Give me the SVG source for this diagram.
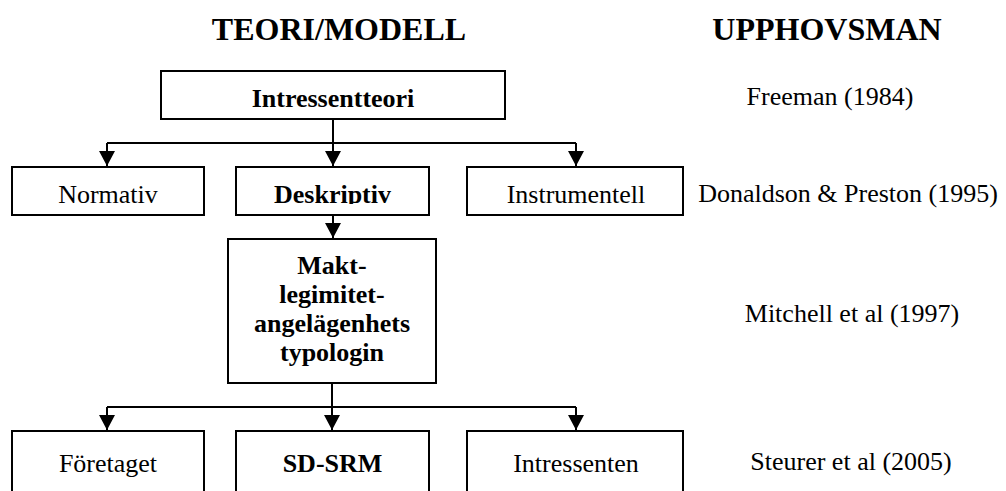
<svg xmlns="http://www.w3.org/2000/svg" width="1006" height="491" viewBox="0 0 1006 491">
  <style>
    .box { fill: #fff; stroke: #000; stroke-width: 2; }
    .t { font-family: "Liberation Serif", "Times New Roman", serif; font-size: 26px; fill: #000; text-anchor: middle; }
    .b { font-weight: bold; }
    .h { font-family: "Liberation Serif", "Times New Roman", serif; font-size: 32px; font-weight: bold; fill: #000; text-anchor: middle; }
    .c { fill: none; stroke: #000; stroke-width: 2; }
  </style>
  <defs>
    <marker id="arr" viewBox="0 0 15 16" refX="15" refY="8" markerWidth="15" markerHeight="16" markerUnits="userSpaceOnUse" orient="auto">
      <path d="M0,0 L15,8 L0,16 Z" fill="#000"/>
    </marker>
    <clipPath id="row2clip"><rect x="0" y="160" width="1006" height="44"/></clipPath>
  </defs>
  <rect width="1006" height="491" fill="#fff"/>

  <g id="headers">
    <text class="h" x="339" y="40">TEORI/MODELL</text>
    <text class="h" x="827" y="40">UPPHOVSMAN</text>
  </g>

  <g id="connectors">
    <path class="c" d="M333,119 V143 M107,143 H576"/>
    <path class="c" d="M107,143 V166" marker-end="url(#arr)"/>
    <path class="c" d="M333,143 V166" marker-end="url(#arr)"/>
    <path class="c" d="M576,143 V166" marker-end="url(#arr)"/>
    <path class="c" d="M333,215 V238" marker-end="url(#arr)"/>
    <path class="c" d="M332,383 V407 M107,407 H576"/>
    <path class="c" d="M107,407 V430" marker-end="url(#arr)"/>
    <path class="c" d="M332,407 V430" marker-end="url(#arr)"/>
    <path class="c" d="M576,407 V430" marker-end="url(#arr)"/>
  </g>

  <g id="intressentteori">
    <rect class="box" x="161" y="71" width="344" height="48"/>
    <text class="t b" x="333" y="107">Intressentteori</text>
  </g>
  <g id="normativ">
    <rect class="box" x="12" y="167" width="192" height="48"/>
    <text class="t" x="108" y="203" clip-path="url(#row2clip)">Normativ</text>
  </g>
  <g id="deskriptiv">
    <rect class="box" x="236" y="167" width="193" height="48"/>
    <text class="t b" x="332.5" y="203" clip-path="url(#row2clip)">Deskriptiv</text>
  </g>
  <g id="instrumentell">
    <rect class="box" x="467" y="167" width="216" height="48"/>
    <text class="t" x="576" y="203" clip-path="url(#row2clip)">Instrumentell</text>
  </g>
  <g id="makt">
    <rect class="box" x="228" y="239" width="208" height="144"/>
    <text class="t b" x="332" y="274">Makt-</text>
    <text class="t b" x="332" y="303">legimitet-</text>
    <text class="t b" x="332" y="332">angelägenhets</text>
    <text class="t b" x="332" y="361">typologin</text>
  </g>
  <g id="foretaget">
    <rect class="box" x="12" y="431" width="192" height="80"/>
    <text class="t" x="108" y="472">Företaget</text>
  </g>
  <g id="sdsrm">
    <rect class="box" x="236" y="431" width="193" height="80"/>
    <text class="t b" x="332.5" y="472">SD-SRM</text>
  </g>
  <g id="intressenten">
    <rect class="box" x="467" y="431" width="216" height="80"/>
    <text class="t" x="576" y="472">Intressenten</text>
  </g>

  <g id="authors">
    <text class="t" x="830" y="105">Freeman (1984)</text>
    <text class="t" x="848" y="202">Donaldson &amp; Preston (1995)</text>
    <text class="t" x="852" y="322">Mitchell et al (1997)</text>
    <text class="t" x="851" y="470">Steurer et al (2005)</text>
  </g>
</svg>
